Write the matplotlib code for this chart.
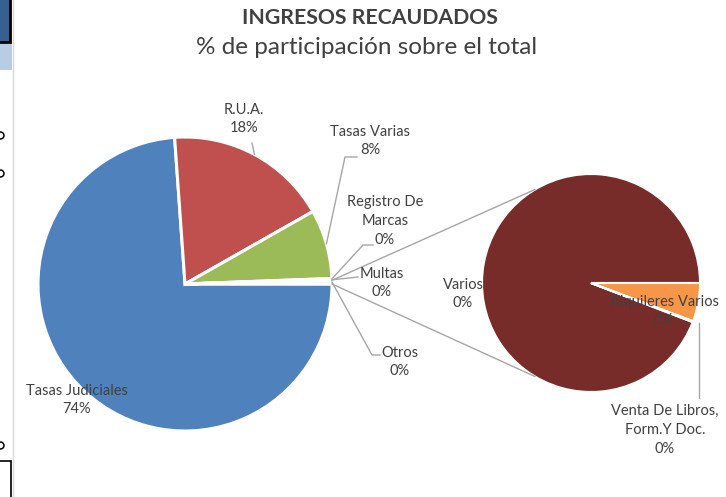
import numpy as np
import matplotlib
matplotlib.use("Agg")
import matplotlib.pyplot as plt
from matplotlib.patches import Rectangle

plt.rcParams['font.family'] = ['Lato', 'DejaVu Sans']

# ---------------- data ----------------
main_labels = ["Tasas Judiciales", "R.U.A.", "Tasas Varias", "Registro De\nMarcas", "Multas", "Otros"]
main_values_known = [73.8, 17.9, 7.6, 0.1, 0.1]
sub_labels = ["Varios", "Alquileres Varios", "Venta De Libros,\nForm.Y Doc."]
sub_values = [0.377, 0.0228, 0.0006]
main_values = main_values_known + [sum(sub_values)]
total = sum(main_values)

main_colors = ["#4F81BD", "#C0504D", "#9BBB59", "#8064A2", "#4BACC6", "#F2F2F2"]
sub_colors = ["#772C2A", "#F79646", "#9BBB59"]

title = "INGRESOS RECAUDADOS"
subtitle = "% de participación sobre el total"

W, H = 726, 497
def Y(y):
    return H - y

fig = plt.figure(figsize=(W / 100, H / 100), dpi=100)
ax = fig.add_axes([0, 0, 1, 1])

TXT = "#404040"
LINE = "#A6A6A6"
FS = 10.5
LS = 1.42

# ---------------- main pie ----------------
c1 = (185, Y(284)); r1 = 147
w1, _ = ax.pie(main_values, colors=main_colors, startangle=0, counterclock=False,
               center=c1, radius=r1, frame=True,
               wedgeprops=dict(edgecolor="white", linewidth=2.2))

# ---------------- secondary pie ----------------
c2 = (591, Y(283)); r2 = 109
sub_start = -(sum(sub_values[1:]) / sum(sub_values)) * 360
w2, _ = ax.pie(sub_values, colors=sub_colors, startangle=sub_start, counterclock=False,
               center=c2, radius=r2, frame=True, explode=[0, 0.03, 0],
               wedgeprops=dict(edgecolor="white", linewidth=1.5))

def edge_pt(center, r, ang):
    a = np.deg2rad(ang)
    return center[0] + r * np.cos(a), center[1] + r * np.sin(a)

# connector lines between pies
otros = w1[-1]
p_up = edge_pt(c1, r1, otros.theta2)
p_dn = edge_pt(c1, r1, otros.theta1)
q_up = edge_pt(c2, r2, 121)
q_dn = edge_pt(c2, r2, 239)
ax.plot([p_up[0], q_up[0]], [p_up[1], q_up[1]], color=LINE, lw=1)
ax.plot([p_dn[0], q_dn[0]], [p_dn[1], q_dn[1]], color=LINE, lw=1)

def pct(v):
    return f"{round(v / total * 100):.0f}%"

def mid(w):
    return (w.theta1 + w.theta2) / 2

# ---------------- labels ----------------
main_pos = [(77, 400), (244, 119), (370, 141), (385, 221), (382, 283), (400, 362)]
leaders = [
    None,
    [(252, 143)],
    [(345, 157), (357, 157)],
    [(363, 245), (373, 245)],
    [(358, 277)],
    [(372, 355), (380, 355)],
]
for i, (lab, v) in enumerate(zip(main_labels, main_values)):
    x, y = main_pos[i]
    ax.text(x, Y(y), lab + "\n" + pct(v), ha="center", va="center", fontsize=FS,
            color=TXT, linespacing=LS)
    if leaders[i]:
        s = edge_pt(c1, r1, mid(w1[i]))
        xs = [s[0]] + [p[0] for p in leaders[i]]
        ys = [s[1]] + [Y(p[1]) for p in leaders[i]]
        ax.plot(xs, ys, color=LINE, lw=1)

sub_pos = [(463, 294), (664, 311), (665, 430)]
for i, (lab, v) in enumerate(zip(sub_labels, sub_values)):
    x, y = sub_pos[i]
    ax.text(x, Y(y), lab + "\n" + pct(v), ha="center", va="center", fontsize=FS,
            color=TXT, linespacing=LS)
ax.plot([699, 699], [Y(323), Y(398)], color=LINE, lw=1)

# ---------------- titles ----------------
ax.text(370, Y(18), title, ha="center", va="center", fontsize=15.3,
        fontweight="bold", color=TXT)
ax.text(367, Y(48), subtitle, ha="center", va="center", fontsize=17.5, color=TXT)

# ---------------- spreadsheet fragments on the left edge ----------------
ax.add_patch(Rectangle((-2, Y(42)), 12, 44, facecolor="#366092", edgecolor="black", lw=2))
ax.add_patch(Rectangle((0, Y(70)), 12, 26, facecolor="#B8CCE4", edgecolor="none"))
ax.plot([12.5, 12.5], [0, H], color="#D9D9D9", lw=1)
ax.add_patch(Rectangle((-2, -2), 13, Y(461) + 2, facecolor="white", edgecolor="black", lw=1.2))
for yy in (135, 173, 445):
    ax.plot([0], [Y(yy)], marker="o", ms=5, mfc="none", mec="black", mew=1.1)

ax.set_xlim(0, W)
ax.set_ylim(0, H)
ax.set_aspect("equal")
ax.axis("off")

fig.savefig("out.png", dpi=100)
